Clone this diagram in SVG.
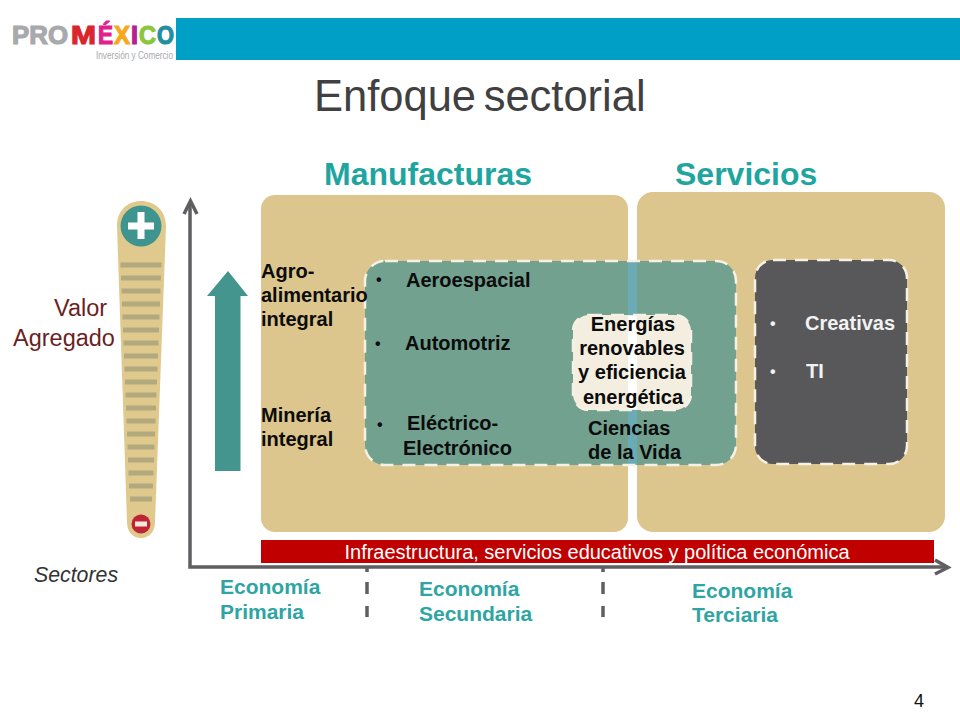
<svg xmlns="http://www.w3.org/2000/svg" width="960" height="720" viewBox="0 0 960 720">
<style>
text{font-family:"Liberation Sans",Arial,sans-serif}
.b{font-weight:bold;font-size:20px;fill:#0c0c0c}
.e{font-weight:bold;font-size:21px;fill:#2ea5a3}
.w{font-weight:bold;font-size:20px;fill:#f2f2f2}
.h{font-weight:bold;font-size:32px;fill:#1fa5a0}
.c{text-anchor:middle}
.s{font-size:16px}
.d{fill:none;stroke:#f6f1e4;stroke-width:2.5;stroke-dasharray:13 9}
.t{fill:#b3a97e}
.ax{stroke:#5f5f61;fill:none;stroke-width:3.5}
.l{font-weight:bold;font-size:26px;stroke-width:1.2}
</style>
<rect width="960" height="720" fill="#fff"/>
<g id="header">
<rect x="176" y="18" width="784" height="42" fill="#00a0c6"/>
<text x="12" y="44" class="l" fill="#a7a9ac" stroke="#a7a9ac" textLength="56" lengthAdjust="spacingAndGlyphs">PRO</text>
<text x="71" y="44" class="l" fill="#d9262e" stroke="#d9262e" textLength="25" lengthAdjust="spacingAndGlyphs">M</text>
<text x="98" y="44" class="l" fill="#e0218a" stroke="#e0218a" textLength="15" lengthAdjust="spacingAndGlyphs">É</text>
<text x="114" y="44" class="l" fill="#f5a81c" stroke="#f5a81c" textLength="16" lengthAdjust="spacingAndGlyphs">X</text>
<text x="131" y="44" class="l" fill="#b5218f" stroke="#b5218f" textLength="7" lengthAdjust="spacingAndGlyphs">I</text>
<text x="139" y="44" class="l" fill="#8cc63f" stroke="#8cc63f" textLength="17" lengthAdjust="spacingAndGlyphs">C</text>
<text x="157" y="44" class="l" fill="#1f8fa0" stroke="#1f8fa0" textLength="17" lengthAdjust="spacingAndGlyphs">O</text>
<text x="96" y="59" font-size="10" fill="#a7a9ac" textLength="77" lengthAdjust="spacingAndGlyphs">Inversión y Comercio</text>
<text x="314" y="111" font-size="43.500" fill="#404040" word-spacing="-4.500">Enfoque sectorial</text>
<text x="919" y="707" font-size="18" fill="#111" class="c">4</text>
</g>
<g id="gauge">
<path d="M117 226C117 210 128 201 141 201C154 201 166 210 166 226L155 522C155 532 149 538 141 538C133 538 127 532 127 522Z" fill="#e0c98d"/>
<g class="t">
<rect x="120.500" y="262.500" width="41" height="5"/><rect x="121" y="275.500" width="40" height="5"/><rect x="121.500" y="288.500" width="39" height="5"/><rect x="122" y="301.500" width="38" height="5"/><rect x="122.500" y="314.500" width="37" height="5"/><rect x="123" y="327.500" width="36" height="5"/><rect x="123.500" y="340.500" width="35" height="5"/><rect x="124" y="353.500" width="34" height="5"/><rect x="124.500" y="366.500" width="33" height="5"/><rect x="125" y="379.500" width="32" height="5"/><rect x="125.500" y="392.500" width="31" height="5"/><rect x="126" y="405.500" width="30" height="5"/><rect x="126.500" y="418.500" width="29" height="5"/><rect x="127" y="431.500" width="28" height="5"/><rect x="127.500" y="444.500" width="27" height="5"/><rect x="128" y="457.500" width="26" height="5"/><rect x="128.500" y="470.500" width="25" height="5"/><rect x="129" y="483.500" width="24" height="5"/><rect x="130" y="496.500" width="22" height="5"/>
</g>
<circle cx="141" cy="226" r="20.500" fill="#3f9490"/>
<rect x="128" y="222.500" width="26" height="7" fill="#fff"/><rect x="137.500" y="212" width="7" height="27" fill="#fff"/>
<circle cx="141" cy="524" r="9.500" fill="#be2336"/>
<rect x="135" y="521.500" width="12" height="5" fill="#f4e9d8"/>
</g>
<g id="panel-manufacturas"><rect x="261" y="195" width="367" height="337" rx="14" fill="#dcc68e"/></g>
<g id="panel-servicios"><rect x="637" y="192" width="308" height="340" rx="16" fill="#dcc68e"/></g>
<g id="box-central">
<rect x="365" y="261" width="371" height="204" rx="20" fill="#72a190"/>
<rect x="628" y="261" width="9" height="204" fill="#6aabb5"/>
<rect x="365" y="261" width="371" height="204" rx="20" class="d"/>
</g>
<g id="box-energias">
<rect x="573" y="315" width="118" height="95" rx="16" fill="#f3eee0"/>
<rect x="628" y="316" width="9" height="93" fill="#fff"/>
<rect x="573" y="315" width="118" height="95" rx="16" class="d"/>
<text x="633" y="331" class="b c">Energías</text><text x="632" y="355" class="b c">renovables</text><text x="632" y="379" class="b c">y eficiencia</text><text x="633" y="404" class="b c">energética</text>
</g>
<g id="box-servicios">
<rect x="755" y="260" width="152" height="204" rx="18" fill="#58585a"/>
<rect x="755" y="260" width="152" height="204" rx="18" class="d"/>
<text x="770" y="329" class="w s">•</text><text x="805" y="330" class="w">Creativas</text>
<text x="770" y="377" class="w s">•</text><text x="806" y="378" class="w">TI</text>
</g>
<g id="labels-manufacturas">
<text x="261" y="278" class="b">Agro-</text><text x="261" y="302" class="b">alimentario</text><text x="261" y="326" class="b">integral</text>
<text x="261" y="422" class="b">Minería</text><text x="261" y="446" class="b">integral</text>
<text x="376" y="285" class="b s">•</text><text x="406" y="287" class="b">Aeroespacial</text>
<text x="375" y="349" class="b s">•</text><text x="405" y="350" class="b">Automotriz</text>
<text x="377" y="430" class="b s">•</text><text x="407" y="430" class="b">Eléctrico-</text><text x="403" y="455" class="b">Electrónico</text>
<text x="588" y="435" class="b">Ciencias</text><text x="588" y="459" class="b">de la Vida</text>
</g>
<g id="connectors">
<path class="ax" d="M190 204V567H946"/>
<path d="M184 214L190.500 201L197 214" fill="none" stroke="#5f5f61" stroke-width="3.500"/>
<path d="M935 560L948 567.500L935 574" fill="none" stroke="#5f5f61" stroke-width="3.500"/>
<path d="M367 567V572M367 582V594M367 606V617M603 567V572M603 582V594M603 606V617" stroke="#5f5f61" stroke-width="3.500" fill="none"/>
<path d="M228 271L248 296H240.500V471H215L215 296H207Z" fill="#45958f"/>
</g>
<g id="bar-infra">
<rect x="261" y="540" width="673" height="23" fill="#c00000"/>
<text x="597" y="559" font-size="20" fill="#fff" class="c" textLength="505">Infraestructura, servicios educativos y política económica</text>
</g>
<g id="titles">
<text x="324" y="185" class="h">Manufacturas</text><text x="675" y="185" class="h">Servicios</text>
<text x="54" y="316" font-size="23.500" fill="#6b1f24">Valor</text>
<text x="13" y="346" font-size="23.500" fill="#6b1f24">Agregado</text>
<text x="34" y="582" font-size="21.300" font-style="italic" fill="#333">Sectores</text>
<text x="220" y="594" class="e">Economía</text><text x="220" y="619" class="e">Primaria</text>
<text x="419" y="596" class="e">Economía</text><text x="419" y="621" class="e">Secundaria</text>
<text x="692" y="598" class="e">Economía</text><text x="692" y="622" class="e">Terciaria</text>
</g>
</svg>
